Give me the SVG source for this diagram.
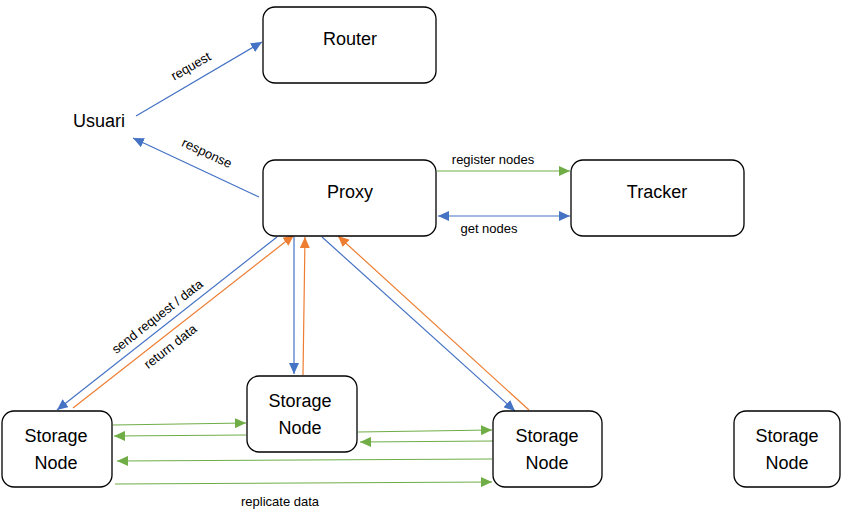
<svg xmlns="http://www.w3.org/2000/svg" width="846" height="527" viewBox="0 0 846 527">
<style>
.box{fill:#fff;stroke:#000;stroke-width:1.3}
.t{font-family:"Liberation Sans",Arial,sans-serif;font-size:18px;fill:#000;text-anchor:middle}
.l{font-family:"Liberation Sans",Arial,sans-serif;font-size:13px;fill:#000;text-anchor:middle}
.b{stroke:#4472C4;stroke-width:1.2;fill:none}
.o{stroke:#ED7D31;stroke-width:1.2;fill:none}
.g{stroke:#70AD47;stroke-width:1.2;fill:none}
</style>
<defs>
<marker id="ab" markerUnits="userSpaceOnUse" markerWidth="12" markerHeight="10" refX="11" refY="5" orient="auto-start-reverse"><path d="M0,0 L11,5 L0,10 Z" fill="#4472C4"/></marker>
<marker id="ao" markerUnits="userSpaceOnUse" markerWidth="12" markerHeight="10" refX="11" refY="5" orient="auto-start-reverse"><path d="M0,0 L11,5 L0,10 Z" fill="#ED7D31"/></marker>
<marker id="ag" markerUnits="userSpaceOnUse" markerWidth="12" markerHeight="10" refX="11" refY="5" orient="auto-start-reverse"><path d="M0,0 L11,5 L0,10 Z" fill="#70AD47"/></marker>
</defs>
<rect width="846" height="527" fill="#fff"/>
<g id="connectors">
<line class="b" x1="136" y1="116" x2="262" y2="42" marker-end="url(#ab)"/>
<line class="b" x1="259" y1="197" x2="133" y2="138" marker-end="url(#ab)"/>
<line class="g" x1="437" y1="171" x2="570" y2="171" marker-end="url(#ag)"/>
<line class="b" x1="438" y1="216" x2="570" y2="216" marker-start="url(#ab)" marker-end="url(#ab)"/>
<line class="b" x1="277" y1="237" x2="57" y2="410" marker-end="url(#ab)"/>
<line class="o" x1="73" y1="408" x2="294" y2="235" marker-end="url(#ao)"/>
<line class="b" x1="294" y1="237" x2="294" y2="374" marker-end="url(#ab)"/>
<line class="o" x1="303" y1="375" x2="305" y2="237" marker-end="url(#ao)"/>
<line class="b" x1="322" y1="237" x2="515" y2="411" marker-end="url(#ab)"/>
<line class="o" x1="529" y1="410" x2="338" y2="236" marker-end="url(#ao)"/>
<line class="g" x1="113" y1="425" x2="246" y2="423" marker-end="url(#ag)"/>
<line class="g" x1="246" y1="435" x2="114" y2="436" marker-end="url(#ag)"/>
<line class="g" x1="358" y1="432" x2="492" y2="430" marker-end="url(#ag)"/>
<line class="g" x1="493" y1="441" x2="360" y2="442" marker-end="url(#ag)"/>
<line class="g" x1="492" y1="459" x2="117" y2="461" marker-end="url(#ag)"/>
<line class="g" x1="115" y1="484" x2="492" y2="482" marker-end="url(#ag)"/>
<text class="l" transform="translate(193,70) rotate(-30)">request</text>
<text class="l" transform="translate(205,157) rotate(25)">response</text>
<text class="l" x="493" y="164">register nodes</text>
<text class="l" x="489" y="233">get nodes</text>
<text class="l" transform="translate(160,320) rotate(-38)">send request / data</text>
<text class="l" transform="translate(173,350) rotate(-38)">return data</text>
<text class="l" x="280" y="506">replicate data</text>
</g>
<g id="router"><rect class="box" x="263" y="7" width="173" height="76" rx="12"/><text class="t" x="350" y="45">Router</text></g>
<g id="usuari"><text class="t" x="99" y="127">Usuari</text></g>
<g id="proxy"><rect class="box" x="263" y="160" width="173" height="76" rx="12"/><text class="t" x="350" y="198">Proxy</text></g>
<g id="tracker"><rect class="box" x="571" y="160" width="173" height="76" rx="12"/><text class="t" x="657" y="198">Tracker</text></g>
<g id="storage1"><rect class="box" x="2" y="411" width="110" height="76" rx="12"/><text class="t" x="56" y="442">Storage</text><text class="t" x="56" y="469">Node</text></g>
<g id="storage2"><rect class="box" x="247" y="376" width="110" height="76" rx="12"/><text class="t" x="300" y="407">Storage</text><text class="t" x="300" y="434">Node</text></g>
<g id="storage3"><rect class="box" x="493" y="411" width="109" height="76" rx="12"/><text class="t" x="547" y="442">Storage</text><text class="t" x="547" y="469">Node</text></g>
<g id="storage4"><rect class="box" x="734" y="411" width="106" height="76" rx="12"/><text class="t" x="787" y="442">Storage</text><text class="t" x="787" y="469">Node</text></g>
</svg>
